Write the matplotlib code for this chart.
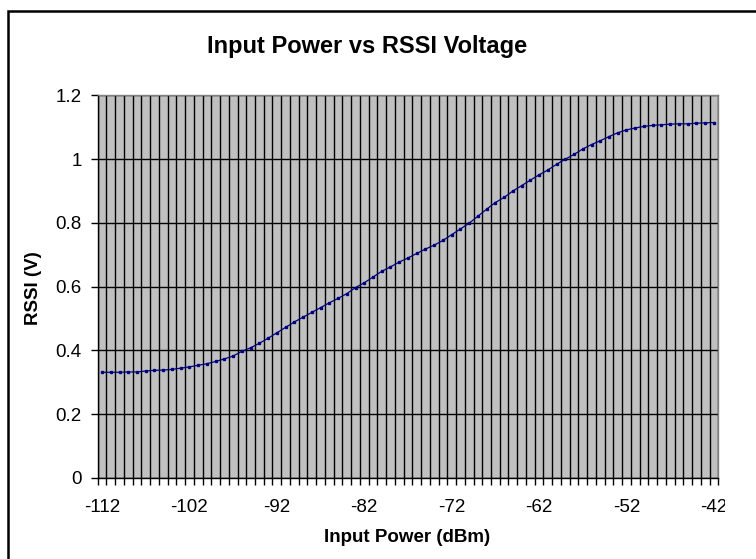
import matplotlib
matplotlib.use('Agg')
import matplotlib.pyplot as plt
import matplotlib.patches as patches
from matplotlib.transforms import Bbox, TransformedBbox
import numpy as np

plt.rcParams['font.family'] = ['Liberation Sans', 'DejaVu Sans']

# input power categories (dBm)
power_dbm = [-112, -111, -110, -109, -108, -107, -106, -105, -104, -103,
             -102, -101, -100, -99, -98, -97, -96, -95, -94, -93,
             -92, -91, -90, -89, -88, -87, -86, -85, -84, -83,
             -82, -81, -80, -79, -78, -77, -76, -75, -74, -73,
             -72, -71, -70, -69, -68, -67, -66, -65, -64, -63,
             -62, -61, -60, -59, -58, -57, -56, -55, -54, -53,
             -52, -51, -50, -49, -48, -47, -46, -45, -44, -43,
             -42]
# RSSI voltage (V)
rssi_v = [0.331, 0.331, 0.331, 0.332, 0.332, 0.335, 0.337, 0.338, 0.340, 0.344,
          0.348, 0.353, 0.358, 0.365, 0.373, 0.382, 0.397, 0.408, 0.422, 0.438,
          0.455, 0.472, 0.489, 0.504, 0.519, 0.534, 0.549, 0.563, 0.578, 0.597,
          0.612, 0.630, 0.648, 0.662, 0.677, 0.690, 0.704, 0.718, 0.730, 0.745,
          0.763, 0.781, 0.799, 0.821, 0.843, 0.864, 0.880, 0.900, 0.917, 0.934,
          0.951, 0.966, 0.984, 1.000, 1.015, 1.032, 1.046, 1.058, 1.071, 1.083,
          1.092, 1.098, 1.103, 1.106, 1.108, 1.110, 1.111, 1.111, 1.113, 1.114,
          1.115]
x_labels = [-112, -102, -92, -82, -72, -62, -52, -42]
y_ticks = [0, 0.2, 0.4, 0.6, 0.8, 1.0, 1.2]

fig = plt.figure(figsize=(7.56, 5.59), dpi=100)
ax = fig.add_axes([0.1292, 0.1454, 0.8209, 0.6838])
ax.set_facecolor('#C0C0C0')

# chart border (runs off the right and bottom of the picture)
fig.patches.append(patches.Rectangle((7.5/756, -0.1), 1.2, 1 - 10.5/559 + 0.1,
                                     transform=fig.transFigure, fill=False,
                                     edgecolor='black', linewidth=1.8, clip_on=False))

ax.plot(power_dbm, rssi_v, color='#000080', linewidth=0.9, marker='s',
        markersize=1.8, markerfacecolor='#000080', markeredgecolor='#000080', zorder=3)

ax.set_xlim(power_dbm[0] - 0.5, power_dbm[-1] + 0.5)
ax.set_ylim(0, 1.2)
edges = np.array(power_dbm + [power_dbm[-1] + 1]) - 0.5
ax.set_xticks(edges, minor=True)
ax.set_xticks(x_labels)
ax.set_xticklabels([str(v) for v in x_labels])
ax.set_yticks(y_ticks)
ax.set_yticklabels(['0', '0.2', '0.4', '0.6', '0.8', '1', '1.2'])

ax.tick_params(axis='x', which='major', length=0, pad=15, labelsize=13.5)
ax.tick_params(axis='x', which='minor', length=5, width=1, color='black', direction='out')
ax.tick_params(axis='y', which='major', length=5, width=1, color='black', direction='out',
               labelsize=13.5, pad=6.5)

# the last label is cut by the chart edge in the original
clip = TransformedBbox(Bbox([[0, 0], [725/756, 1]]), fig.transFigure)
last = ax.get_xticklabels()[-1]
last.set_clip_box(clip)
last.set_clip_on(True)

ax.grid(True, axis='x', which='minor', color='black', linewidth=1)
ax.grid(True, axis='y', which='major', color='black', linewidth=1)
ax.set_axisbelow(True)

for s in ['top', 'right']:
    ax.spines[s].set_color('#808080')
    ax.spines[s].set_linewidth(1)
for s in ['left', 'bottom']:
    ax.spines[s].set_color('black')
    ax.spines[s].set_linewidth(1)

fig.text(367/756, 1 - 47/559, 'Input Power vs RSSI Voltage', ha='center', va='center',
         fontsize=17, fontweight='bold')
fig.text(407/756, 1 - 538/559, 'Input Power (dBm)', ha='center', va='center',
         fontsize=13.5, fontweight='bold')
fig.text(33/756, 1 - 288/559, 'RSSI (V)', ha='center', va='center', rotation=90,
         fontsize=13.5, fontweight='bold')

plt.savefig('out.png', dpi=100)
